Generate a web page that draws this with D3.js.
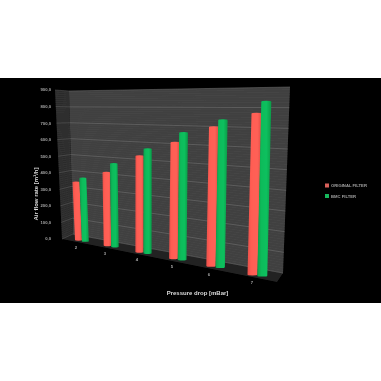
<!DOCTYPE html>
<html><head><meta charset="utf-8">
<script src="https://cdn.jsdelivr.net/npm/d3@7"></script>
<style>html,body{margin:0;padding:0;background:#fff}svg{display:block}text{font-family:"Liberation Sans",Arial,sans-serif}</style>
</head><body><div id="c"></div>
<script>
const categories = [2, 3, 4, 5, 6, 7];
const originalFilter = [345, 420, 535, 625, 727, 817];
const bmcFilter = [375, 477, 580, 685, 769, 883];
const valueTicks = [0, 100, 200, 300, 400, 500, 600, 700, 800, 900];
const tickLabels = ["0,0","100,0","200,0","300,0","400,0","500,0","600,0","700,0","800,0","900,0"];
const seriesNames = ["ORIGINAL FILTER", "BMC FILTER"];

const W = 381, H = 381;
const svg = d3.select("#c").append("svg").attr("width", W).attr("height", H);
const defs = svg.append("defs");
defs.append("filter").attr("id","soft").attr("x","-5%").attr("y","-5%").attr("width","110%").attr("height","110%")
  .append("feGaussianBlur").attr("stdDeviation",0.45);
const grad = (id, stops) => {
  const g = defs.append("linearGradient").attr("id", id);
  stops.forEach(([o,c]) => g.append("stop").attr("offset", o).attr("stop-color", c));
};
grad("gr", [[0,"#e8504a"],[0.25,"#ff5c52"],[0.7,"#ff6257"],[1,"#e24d45"]]);
grad("gg", [[0,"#08a04c"],[0.3,"#0cbb5a"],[0.65,"#0fc05e"],[1,"#079a48"]]);

svg.append("rect").attr("y",78).attr("width",W).attr("height",225).attr("fill","#000");
const root = svg.append("g").attr("filter","url(#soft)");

// wall projection scales
const v = d3.scaleLinear().domain([0,900]);
const frontY = v.copy().range([239,90]);
const frontX = v.copy().range([62,55]);
const backLY = v.copy().range([234,91]);
const backLX = v.copy().range([73,69]);
const backRY = v.copy().range([273,87]);
const backRX = v.copy().range([283,290]);
const poly = pts => pts.map(p => p.join(",")).join(" ");

root.append("polygon").attr("fill","#2c2c2c")
  .attr("points", poly([[frontX(0),frontY(0)],[frontX(900),frontY(900)],[backLX(900),backLY(900)],[backLX(0),backLY(0)]]));
root.append("polygon").attr("fill","#3f3f3f")
  .attr("points", poly([[backLX(0),backLY(0)],[backLX(900),backLY(900)],[backRX(900),backRY(900)],[backRX(0),backRY(0)]]));
root.append("polygon").attr("fill","#222")
  .attr("points", poly([[frontX(0),frontY(0)],[backLX(0),backLY(0)],[backRX(0),backRY(0)],[277,282]]));

// fine stripes + gridlines
const minor = d3.range(0, 900, 12.5);
root.append("g").selectAll("line").data(minor).join("line")
  .attr("x1", backLX).attr("y1", backLY).attr("x2", backRX).attr("y2", backRY)
  .attr("stroke", "#4e4e4e").attr("stroke-width", 0.4);
root.append("g").selectAll("line").data(minor).join("line")
  .attr("x1", frontX).attr("y1", frontY).attr("x2", backLX).attr("y2", backLY)
  .attr("stroke", "#3a3a3a").attr("stroke-width", 0.4);
const grid = root.append("g");
grid.selectAll("line.b").data(valueTicks).join("line").attr("class","b")
  .attr("x1", backLX).attr("y1", backLY).attr("x2", backRX).attr("y2", backRY)
  .attr("stroke", "#757575").attr("stroke-width", 0.5);
grid.selectAll("line.l").data(valueTicks).join("line").attr("class","l")
  .attr("x1", frontX).attr("y1", frontY).attr("x2", backLX).attr("y2", backLY)
  .attr("stroke", "#5e5e5e").attr("stroke-width", 0.5);

// bars
const baseX = d3.scaleLinear().domain(categories).range([78.5,107.5,139.5,173.5,211,252.5]);
const baseY = d3.scaleLinear().domain(categories).range([240,245.5,252,258.5,266,274.5]);
const lean  = d3.scaleLinear().domain([2,7]).range([-2.5,4]);
const unit  = d3.scaleLinear().domain([2,7]).range([0.168,0.197]);
const barW  = d3.scaleLinear().domain([2,7]).range([7,10]);

const cyl = (cat, val, s) => {
  const w = barW(cat);
  const bx = baseX(cat) + s*w*0.98, by = baseY(cat) + s*1.2;
  const tx = bx + lean(cat), ty = by - val*unit(cat);
  const r = w/2, ry = r*0.18;
  return `M${bx-r},${by}L${tx-r},${ty}A${r},${ry} 0 0 1 ${tx+r},${ty}L${bx+r},${by}A${r},${ry} 0 0 1 ${bx-r},${by}Z`;
};
categories.forEach((cat,i) => {
  root.append("path").attr("d", cyl(cat, originalFilter[i], 0)).attr("fill","url(#gr)");
  root.append("path").attr("d", cyl(cat, bmcFilter[i], 1)).attr("fill","url(#gg)");
});

// axis texts
const t = root.append("g");
t.selectAll("text.y").data(valueTicks).join("text").attr("class","y")
  .attr("x",51).attr("y", d => frontY(d)+1.4).attr("text-anchor","end")
  .attr("fill","#a8a8a8").attr("font-size",4.2).attr("font-weight","bold")
  .text((d,i) => tickLabels[i]);
const catLabelX = d3.scaleLinear().domain(categories).range([76,105,137,172,209,252]);
const catLabelY = d3.scaleLinear().domain(categories).range([247,253,259,266,274,282]);
t.selectAll("text.x").data(categories).join("text").attr("class","x")
  .attr("x", catLabelX).attr("y", d => catLabelY(d)+1.5).attr("text-anchor","middle")
  .attr("fill","#a8a8a8").attr("font-size",4.2).attr("font-weight","bold").text(d => d);

t.append("text").attr("transform","translate(38,194) rotate(-90)").attr("text-anchor","middle")
  .attr("fill","#dcdcdc").attr("font-size",6).attr("font-weight","bold").text("Air flow rate [m³/h]");
t.append("text").attr("x",197.5).attr("y",295).attr("text-anchor","middle")
  .attr("fill","#dcdcdc").attr("font-size",6).attr("font-weight","bold").text("Pressure drop [mBar]");

// legend
const legendY = d3.scalePoint().domain(seriesNames).range([185.5,196]);
const legendColor = d3.scaleOrdinal().domain(seriesNames).range(["#d9605a","#12b85c"]);
const lg = root.append("g").selectAll("g").data(seriesNames).join("g");
lg.append("rect").attr("x",325).attr("y", d => legendY(d)-2).attr("width",4).attr("height",4).attr("fill", legendColor);
lg.append("text").attr("x",331).attr("y", d => legendY(d)+1.5).attr("fill","#a0a0a0")
  .attr("font-size",4.2).attr("font-weight","bold").text(d => d);
</script></body></html>
